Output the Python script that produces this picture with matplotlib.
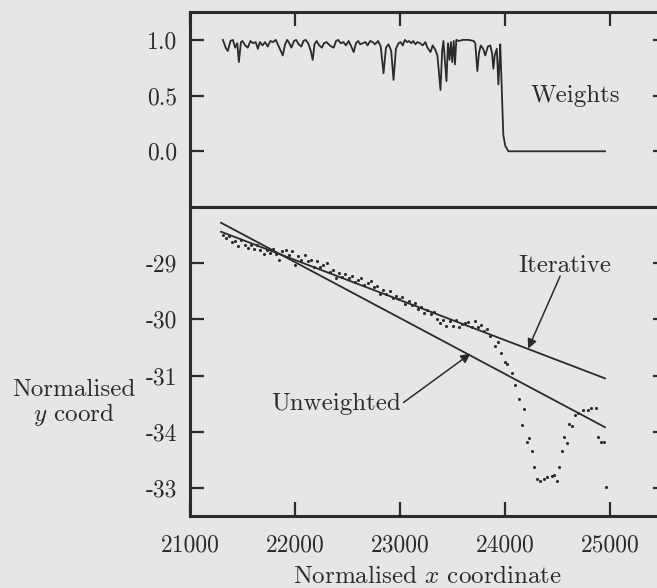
import matplotlib
matplotlib.use("Agg")
import matplotlib.pyplot as plt

# ---- data ----
w_x = [21313, 21340, 21360, 21385, 21408, 21430, 21450, 21465, 21485, 21500,
       21525, 21550, 21575, 21600, 21625, 21646, 21665, 21690, 21715, 21740,
       21765, 21790, 21817, 21840, 21860, 21883, 21905, 21925, 21945, 21965,
       21990, 22010, 22035, 22060, 22080, 22100, 22125, 22150, 22168, 22185,
       22205, 22230, 22255, 22275, 22300, 22320, 22345, 22368, 22390, 22410,
       22435, 22460, 22485, 22510, 22535, 22558, 22580, 22600, 22620, 22645,
       22670, 22690, 22715, 22740, 22760, 22790, 22815, 22842, 22865, 22890,
       22915, 22937, 22960, 22985, 23004, 23025, 23045, 23065, 23085, 23105,
       23125, 23145, 23165, 23190, 23215, 23240, 23260, 23289, 23310, 23335,
       23355, 23384, 23400, 23412, 23441, 23455, 23470, 23483, 23496, 23510,
       23522, 23535, 23555, 23600, 23650, 23700, 23715, 23735, 23750, 23767,
       23790, 23810, 23835, 23858, 23875, 23887, 23900, 23920, 23935, 23945,
       23953, 23962, 23968, 23975, 23982, 24000, 24030, 24950]
w_val = [1.00, 0.93, 0.90, 0.99, 1.00, 0.93, 0.97, 0.80, 0.98, 0.99,
         0.95, 0.93, 0.99, 0.97, 0.98, 0.92, 0.98, 0.95, 0.98, 0.94,
         0.99, 0.98, 1.00, 0.95, 0.91, 0.86, 0.96, 1.00, 0.97, 0.93,
         0.99, 1.00, 0.96, 0.94, 0.99, 1.00, 0.97, 0.90, 0.82, 0.96,
         0.99, 0.95, 0.93, 0.97, 0.98, 0.96, 0.94, 0.93, 0.99, 1.00,
         0.97, 0.98, 0.95, 0.99, 0.94, 0.89, 0.97, 0.99, 0.96, 0.97,
         0.98, 0.95, 0.99, 0.98, 0.96, 0.99, 0.94, 0.70, 0.93, 0.96,
         0.90, 0.64, 0.92, 0.97, 0.98, 0.95, 1.00, 0.98, 0.99, 0.97,
         0.99, 0.96, 0.98, 0.97, 0.95, 0.98, 0.93, 0.89, 0.95, 0.91,
         0.86, 0.55, 0.90, 0.99, 0.63, 0.97, 0.82, 0.98, 0.80, 0.99,
         0.78, 1.00, 0.99, 1.00, 1.00, 0.99, 0.97, 0.72, 0.88, 0.95,
         0.92, 0.86, 0.94, 0.95, 0.88, 0.74, 0.86, 0.92, 0.60, 0.78,
         0.96, 0.70, 0.52, 0.35, 0.15, 0.05, 0.00, 0.00]

pts_x = [21310, 21340, 21370, 21400, 21430, 21460, 21490, 21520, 21550, 21580,
         21610, 21640, 21670, 21700, 21730, 21760, 21790, 21820, 21850, 21880,
         21910, 21940, 21970, 22000, 22030, 22060, 22090, 22120, 22150, 22180,
         22210, 22240, 22270, 22300, 22330, 22360, 22390, 22420, 22450, 22480,
         22510, 22540, 22570, 22600, 22630, 22660, 22690, 22720, 22750, 22780,
         22810, 22840, 22870, 22900, 22930, 22960, 22990, 23020, 23050, 23080,
         23110, 23140, 23170, 23200, 23230, 23260, 23290, 23320, 23350, 23380,
         23410, 23440, 23470, 23500, 23530, 23560, 23590, 23620, 23650, 23680,
         23710, 23740, 23770, 23800, 23830, 23860,
         23906, 23934, 23962, 24001, 24020, 24067, 24096, 24134, 24181, 24162,
         24229, 24210, 24257, 24276, 24305, 24333, 24371, 24400, 24447, 24466,
         24495, 24514, 24542, 24590, 24561, 24609, 24637, 24666, 24694, 24742,
         24789, 24818, 24865, 24884, 24913, 24941, 24960]
pts_y = [-28.50, -28.56, -28.52, -28.62, -28.60, -28.69, -28.58, -28.67, -28.73, -28.68,
         -28.75, -28.67, -28.77, -28.83, -28.76, -28.82, -28.75, -28.84, -28.94, -28.78,
         -28.76, -28.86, -28.78, -29.03, -28.87, -28.95, -28.86, -28.97, -28.94, -29.06,
         -28.96, -29.06, -29.04, -29.00, -29.16, -29.12, -29.27, -29.17, -29.24, -29.20,
         -29.27, -29.22, -29.34, -29.30, -29.27, -29.38, -29.36, -29.31, -29.43, -29.40,
         -29.55, -29.47, -29.54, -29.49, -29.62, -29.58, -29.64, -29.61, -29.73, -29.68,
         -29.74, -29.70, -29.81, -29.78, -29.88, -29.84, -29.90, -29.87, -29.99, -30.07,
         -30.02, -30.11, -30.03, -30.12, -30.02, -30.14, -30.08, -30.06, -30.04, -30.13,
         -30.03, -30.13, -30.10, -30.20, -30.18, -30.30,
         -30.47, -30.41, -30.59, -30.75, -30.79, -30.95, -31.16, -31.41, -31.60, -31.88,
         -32.11, -32.19, -32.35, -32.63, -32.84, -32.88, -32.84, -32.81, -32.79, -32.77,
         -32.88, -32.63, -32.35, -32.20, -32.10, -31.87, -31.90, -31.71, -31.67, -31.62,
         -31.62, -31.57, -31.58, -32.10, -32.19, -32.19, -32.98]

fit_x = [21295, 24950]
unweighted_y = [-28.28, -31.92]
iterative_y = [-28.44, -31.05]

w_ticks = [0.0, 0.5, 1.0]
w_ticklabels = ["0.0", "0.5", "1.0"]
y_ticks = [-29, -30, -31, -32, -33]
y_ticklabels = ["-29", "-30", "-31", "-34", "-33"]
x_ticks = [21000, 22000, 23000, 24000, 25000]

# ---- style ----
bg = "#e6e6e6"
ink = "#2b2b2b"
plt.rcParams["font.family"] = ["cmr10", "DejaVu Serif"]
plt.rcParams["mathtext.fontset"] = "cm"
plt.rcParams["axes.unicode_minus"] = False
plt.rcParams["axes.formatter.use_mathtext"] = True
fs_tick = 17
fs_text = 18

fig = plt.figure(figsize=(6.57, 5.88), dpi=100, facecolor=bg)
L, R = 190 / 657, 667 / 657
ax1 = fig.add_axes([L, 1 - 207 / 588, R - L, (207 - 12) / 588], facecolor=bg)
ax2 = fig.add_axes([L, 1 - 516 / 588, R - L, (516 - 207) / 588], facecolor=bg)

xlim = (21000, 25540)
for ax in (ax1, ax2):
    ax.set_xlim(*xlim)
    for s in ax.spines.values():
        s.set_linewidth(2.2)
        s.set_color(ink)
    ax.tick_params(direction="in", length=10, width=1.6, colors=ink,
                   labelsize=fs_tick, left=True, right=True, pad=9)
    ax.set_xticks(x_ticks)

# upper panel: weights
ax1.plot(w_x, w_val, color=ink, lw=1.3)
ax1.set_ylim(-0.5, 1.25)
ax1.set_yticks(w_ticks)
ax1.set_yticklabels(w_ticklabels)
ax1.tick_params(axis="x", top=True, bottom=False, labelbottom=False)
ax1.text(24666, 0.5, "Weights", ha="center", va="center", fontsize=fs_text, color=ink)

# lower panel: points and fits
ax2.scatter(pts_x, pts_y, s=5, color=ink, linewidths=0)
ax2.plot(fit_x, unweighted_y, color=ink, lw=1.3)
ax2.plot(fit_x, iterative_y, color=ink, lw=1.3)
ax2.set_ylim(-33.5, -28)
ax2.set_yticks(y_ticks)
ax2.set_yticklabels(y_ticklabels)
ax2.tick_params(axis="x", top=False, bottom=True, pad=13)
ax2.set_xticklabels([str(v) for v in x_ticks])

ax2.text(24571, -29.05, "Iterative", ha="center", va="center", fontsize=fs_text, color=ink)
ax2.annotate("", xy=(24219, -30.52), xytext=(24523, -29.23),
             arrowprops=dict(arrowstyle="-|>", color=ink, lw=1.1, mutation_scale=14,
                             shrinkA=0, shrinkB=0))
ax2.text(22387, -31.50, "Unweighted", ha="center", va="center", fontsize=fs_text, color=ink)
ax2.annotate("", xy=(23669, -30.61), xytext=(23032, -31.48),
             arrowprops=dict(arrowstyle="-|>", color=ink, lw=1.1, mutation_scale=14,
                             shrinkA=0, shrinkB=0))

fig.text(428 / 657, 1 - 577 / 588, r"Normalised $x$ coordinate", ha="center",
         va="center", fontsize=fs_text, color=ink)
fig.text(74 / 657, 1 - 403 / 588, "Normalised\n$y$ coord", ha="center", va="center",
         fontsize=fs_text, color=ink, multialignment="center", linespacing=1.0)

fig.savefig("out.png", dpi=100, facecolor=bg)
